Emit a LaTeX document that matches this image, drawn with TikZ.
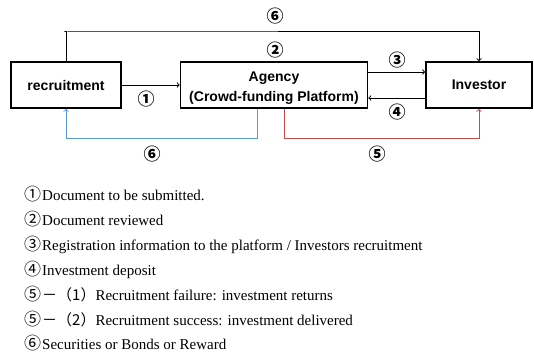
\documentclass[tikz,border=0pt]{standalone}
\usepackage{fontspec}
\setmainfont{Liberation Serif}
\setsansfont{Liberation Sans}
\newfontfamily\cjk{Noto Sans CJK KR}
\newcommand{\circnum}[1]{{\cjk\fontsize{17}{17}\selectfont #1}\hspace{1pt}}
\definecolor{flowblue}{RGB}{91,155,213}
\definecolor{flowred}{RGB}{192,80,77}
\begin{document}
\begin{tikzpicture}[x=1pt, y=-1pt,
    party/.style={draw, line width=1.6pt, minimum height=46pt, inner sep=0pt, align=center,
      font=\sffamily\bfseries\fontsize{14}{20}\selectfont},
    num/.style={inner sep=0pt, font=\cjk\bfseries\fontsize{17}{17}\selectfont},
    item/.style={anchor=base west, inner sep=0pt, font=\fontsize{15}{16}\selectfont},
    flow/.style={->, line width=1pt}]
  \useasboundingbox (0,0) rectangle (534,353);

  \node[party, minimum width=110pt] (rec) at (66,85) {recruitment};
  \node[party, minimum width=187pt] (ag) at (274,85) {\rule{0pt}{15pt}Agency\\(Crowd-funding Platform)};
  \node[party, minimum width=106pt] (inv) at (479,85) {Investor};

  % top route
  \coordinate (top) at (64,32);
  \draw[flow] (rec.north) |- (top) -| (inv.north);
  \node[num] (n6a) at (275,16) {⑥};
  \node[num] (n2) at (275,50) {②};

  \draw[flow] (rec.east) -- (ag.west);
  \node[num] (n1) at (146,99) {①};

  \draw[flow] ([yshift=13pt]ag.east) -- ([yshift=13pt]inv.west);
  \node[num] (n3) at (397,60) {③};
  \draw[flow] ([yshift=-13pt]inv.west) -- ([yshift=-13pt]ag.east);
  \node[num] (n4) at (397,112) {④};

  % return routes below
  \draw[flow, flowblue] ([xshift=-17pt]ag.south) -- ++(0,30) -| (rec.south);
  \node[num] (n6b) at (152,154) {⑥};
  \draw[flow, flowred] ([xshift=10pt]ag.south) -- ++(0,30) -| (inv.south);
  \node[num] (n5) at (377,154) {⑤};

  % legend
  \node[item] (l1) at (24,200) {\circnum{①}Document to be submitted.};
  \node[item] (l2) at (24,225) {\circnum{②}Document reviewed};
  \node[item] (l3) at (24,250) {\circnum{③}Registration information to the platform / Investors recruitment};
  \node[item] (l4) at (24,275) {\circnum{④}Investment deposit};
  \node[item] (l5) at (24,300) {\circnum{⑤}{\cjk －（1）}Recruitment failure: investment returns};
  \node[item] (l6) at (24,325) {\circnum{⑤}{\cjk －（2）}Recruitment success: investment delivered};
  \node[item] (l7) at (24,349) {\circnum{⑥}Securities or Bonds or Reward};
\end{tikzpicture}
\end{document}
